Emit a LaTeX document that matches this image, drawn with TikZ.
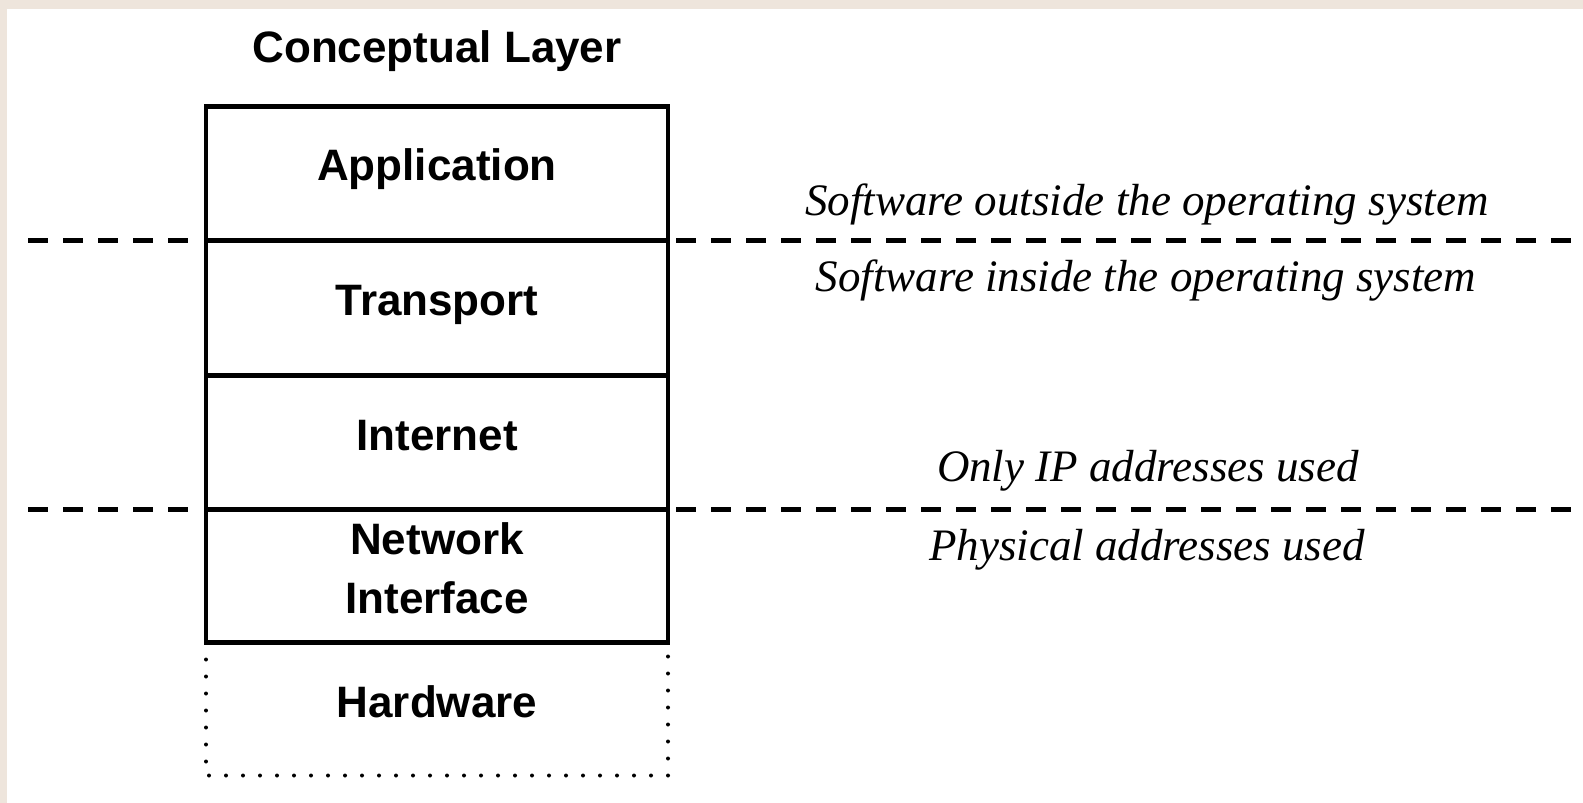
\documentclass[tikz,border=0pt]{standalone}
\usepackage{fontspec}
\setmainfont{Liberation Serif}
\setsansfont{Liberation Sans}
\definecolor{paper}{HTML}{EEE5DC}
\begin{document}
\begin{tikzpicture}[x=1pt,y=-1pt,
  layerbox/.style={draw, line width=4.2pt, minimum width=462pt, inner sep=0pt, outer sep=0pt, anchor=north},
  layertext/.style={font=\sffamily\bfseries\fontsize{44}{48}\selectfont, align=center, inner sep=0pt},
  note/.style={font=\itshape\fontsize{45}{50}\selectfont, inner sep=0pt},
  divider/.style={line width=4.4pt, dash pattern=on 20pt off 15pt},
  dotline/.style={line width=4pt, line cap=round, dash pattern=on 0pt off 17pt}]
  % page with its margin strip
  \fill[paper] (0,0) rectangle (1583,803);
  \fill[white] (7,9) rectangle (1583,803);
  \useasboundingbox (0,0) rectangle (1583,803);

  % title
  \node[layertext] (title) at (437,51) {Conceptual Layer};

  % the layer stack
  \node[layerbox, minimum height=134pt] (app)   at (437,106.5) {};
  \node[layerbox, minimum height=135pt] (trans) at (437,240.5) {};
  \node[layerbox, minimum height=134pt] (inet)  at (437,375.5) {};
  \node[layerbox, minimum height=133pt] (nif)   at (437,509.5) {};
  \node[minimum width=462pt, minimum height=133pt, inner sep=0pt, outer sep=0pt, anchor=north] (hw) at (437,642.5) {};
  \draw[dotline] (hw.north west) -- (hw.south west) -- (hw.south east) -- (hw.north east);

  \node[layertext] (tapp)   at (437,169) {Application};
  \node[layertext] (ttrans) at (437,305) {Transport};
  \node[layertext] (tinet)  at (437,436) {Internet};
  \node[layertext] (tnif)   at (437,568) {Network\\[11pt]Interface};
  \node[layertext] (thw)    at (437,702) {Hardware};

  % boundary lines
  \coordinate (osL) at (28,240.5);
  \coordinate (osR) at (1583,240.5);
  \coordinate (ipL) at (28,509.5);
  \coordinate (ipR) at (1583,509.5);
  \draw[divider] (osL) -- ([xshift=-14pt]app.south west);
  \draw[divider] ([xshift=8pt]app.south east) -- (osR);
  \draw[divider] (ipL) -- ([xshift=-14pt]inet.south west);
  \draw[divider] ([xshift=8pt]inet.south east) -- (ipR);

  % notes beside the boundaries
  \node[note] (outside)  at (1147,205) {Software outside the operating system};
  \node[note] (inside)   at (1146,281) {Software inside the operating system};
  \node[note] (iponly)   at (1148,471) {Only IP addresses used};
  \node[note] (physical) at (1147,550) {Physical addresses used};
\end{tikzpicture}
\end{document}
